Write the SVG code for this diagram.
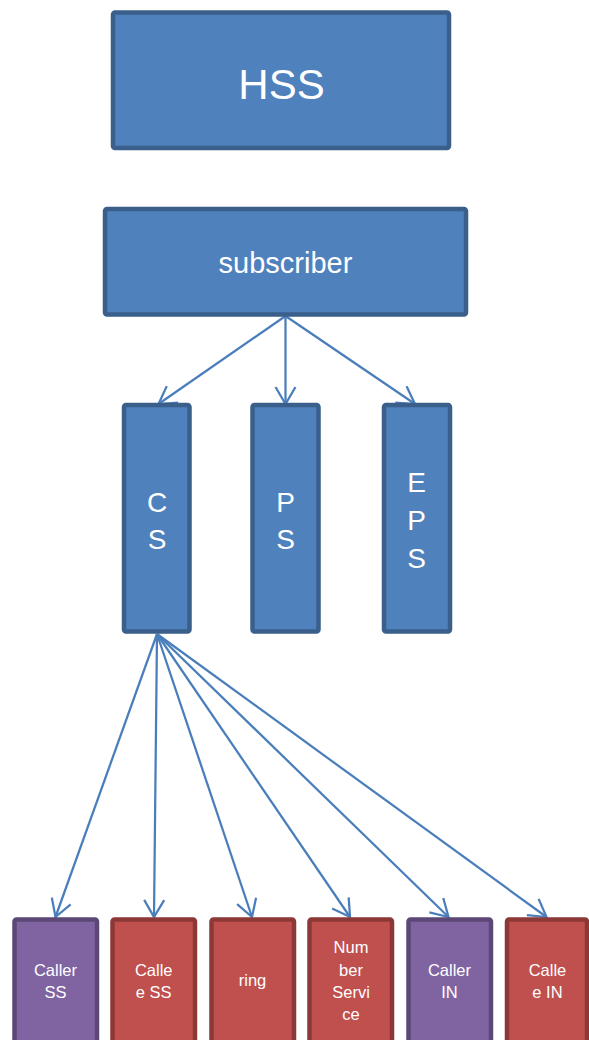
<svg xmlns="http://www.w3.org/2000/svg" width="589" height="1040" viewBox="0 0 589 1040">
<style>
  .blue { fill:#4F81BD; stroke:#3A5F8B; stroke-width:4.5; }
  .red { fill:#C0504D; stroke:#8C3836; stroke-width:4.5; }
  .purple { fill:#8064A2; stroke:#5C4776; stroke-width:4.5; }
  text { font-family:"Liberation Sans", Arial, sans-serif; fill:#FFFFFF; text-anchor:middle; }
  .big { font-size:42px; }
  .mid { font-size:29px; }
  .col { font-size:28px; }
  .small { font-size:16.5px; }
  .conn line { stroke:#4A7EBB; stroke-width:2.25; fill:none; marker-end:url(#ah); }
</style>
<defs>
  <marker id="ah" markerUnits="userSpaceOnUse" viewBox="-20 -13 24 26" refX="0" refY="0" markerWidth="24" markerHeight="26" orient="auto" overflow="visible">
    <path d="M-17,-10 L0,0 L-17,10" fill="none" stroke="#4A7EBB" stroke-width="2.25" stroke-linejoin="miter"/>
  </marker>
</defs>
<rect width="589" height="1040" fill="#FFFFFF"/>

<g id="connectors" class="conn">
  <line x1="285.5" y1="316" x2="158.5" y2="404"/>
  <line x1="285.5" y1="316" x2="285.5" y2="404"/>
  <line x1="285.5" y1="316" x2="415" y2="404"/>
  <line x1="157" y1="634" x2="55.5" y2="917"/>
  <line x1="157" y1="634" x2="154" y2="917"/>
  <line x1="157" y1="634" x2="252" y2="917"/>
  <line x1="157" y1="634" x2="350" y2="917"/>
  <line x1="157" y1="634" x2="448.5" y2="917"/>
  <line x1="157" y1="634" x2="546.5" y2="917"/>
</g>

<g id="hss">
  <rect class="blue" x="113" y="12.5" width="336" height="135.5" rx="2"/>
  <text class="big" x="281.5" y="99">HSS</text>
</g>
<g id="subscriber">
  <rect class="blue" x="105" y="209" width="361" height="105.5" rx="2"/>
  <text class="mid" x="285.5" y="273">subscriber</text>
</g>
<g id="cs">
  <rect class="blue" x="124" y="405" width="65.5" height="226.5" rx="2"/>
  <text class="col" x="157"><tspan x="157" y="512">C</tspan><tspan x="157" y="549">S</tspan></text>
</g>
<g id="ps">
  <rect class="blue" x="252.5" y="405" width="66" height="226.5" rx="2"/>
  <text class="col" x="285.5"><tspan x="285.5" y="512">P</tspan><tspan x="285.5" y="549">S</tspan></text>
</g>
<g id="eps">
  <rect class="blue" x="384" y="405" width="66" height="226.5" rx="2"/>
  <text class="col" x="416.5"><tspan x="416.5" y="492">E</tspan><tspan x="416.5" y="530">P</tspan><tspan x="416.5" y="568">S</tspan></text>
</g>

<g id="caller-ss">
  <rect class="purple" x="14.5" y="919.5" width="82.5" height="140" rx="2"/>
  <text class="small"><tspan x="55.5" y="975.5">Caller</tspan><tspan x="55.5" y="998">SS</tspan></text>
</g>
<g id="callee-ss">
  <rect class="red" x="112.5" y="919.5" width="82.5" height="140" rx="2"/>
  <text class="small"><tspan x="153.7" y="975.5">Calle</tspan><tspan x="153.7" y="998">e SS</tspan></text>
</g>
<g id="ring">
  <rect class="red" x="211.5" y="919.5" width="82.5" height="140" rx="2"/>
  <text class="small" x="252.5" y="986">ring</text>
</g>
<g id="number-service">
  <rect class="red" x="309.5" y="919.5" width="82.5" height="140" rx="2"/>
  <text class="small"><tspan x="351" y="953">Num</tspan><tspan x="351" y="975.5">ber</tspan><tspan x="351" y="997.5">Servi</tspan><tspan x="351" y="1019.5">ce</tspan></text>
</g>
<g id="caller-in">
  <rect class="purple" x="408.5" y="919.5" width="82.5" height="140" rx="2"/>
  <text class="small"><tspan x="449.5" y="975.5">Caller</tspan><tspan x="449.5" y="998">IN</tspan></text>
</g>
<g id="callee-in">
  <rect class="red" x="507" y="919.5" width="80" height="140" rx="2"/>
  <text class="small"><tspan x="547.5" y="975.5">Calle</tspan><tspan x="547.5" y="998">e IN</tspan></text>
</g>
</svg>
